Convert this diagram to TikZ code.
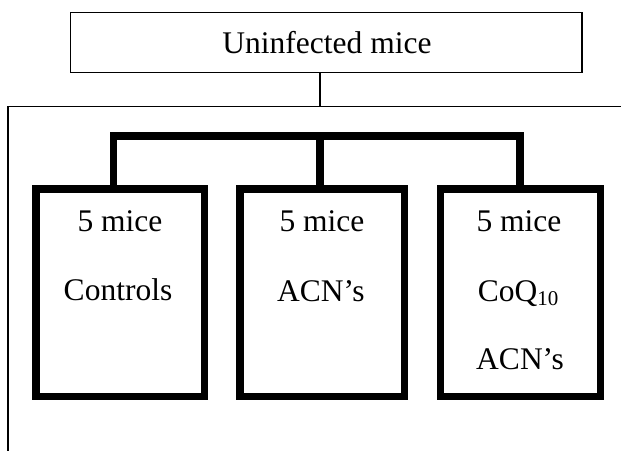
\documentclass[tikz,border=0pt]{standalone}
\usepackage{fontspec}
\setmainfont{Liberation Serif}
\begin{document}
\begin{tikzpicture}[x=1pt,y=-1pt,
  thinline/.style={line width=1.3pt,black},
  thickline/.style={line width=7.5pt,black,line join=miter},
  groupbox/.style={draw,thickline,rectangle,inner sep=0pt},
  topbox/.style={draw,thinline,rectangle,inner sep=0pt,minimum width=511.5pt,minimum height=60pt},
  lbl/.style={anchor=base,inner sep=0pt,font=\fontsize{31.5}{36}\selectfont}]
\useasboundingbox (0,0) rectangle (621,451);
% top box
\node[topbox] (top) at (326.25,42.5) {};
\node[lbl] (toptext) at (327,53.3) {Uninfected mice};
% thin frame lines
\coordinate (hj) at (320,106.5);
\coordinate (hl) at (8,106.5);
\coordinate (hr) at (621,106.5);
\coordinate (vb) at (8,451);
\draw[thinline] (top.south -| hj) -- (hj);
\draw[thinline] (hr) -- (hl) -- (vb);
% group boxes
\node[groupbox,minimum width=168.5pt,minimum height=207.5pt] (b1) at (120,292.5) {};
\node[groupbox,minimum width=164.5pt,minimum height=207.5pt] (b2) at (322,292.5) {};
\node[groupbox,minimum width=159.75pt,minimum height=207.5pt] (b3) at (520.4,292.5) {};
% bracket
\coordinate (j1) at (113.5,136);
\coordinate (j2) at (320,136);
\coordinate (j3) at (520,136);
\draw[thickline] (j1 |- b1.north) -- (j1) -- (j3) -- (j3 |- b3.north);
\draw[thickline] (j2) -- (j2 |- b2.north);
% texts
\node[lbl] (t11) at (120,231.7) {5 mice};
\node[lbl] (t12) at (118,300) {Controls};
\node[lbl] (t21) at (322,231.7) {5 mice};
\node[lbl] (t22) at (321,301) {ACN’s};
\node[lbl] (t31) at (519,231.7) {5 mice};
\node[lbl] (t32) at (518,301.5) {CoQ\raisebox{-4pt}{\fontsize{21}{24}\selectfont 10}};
\node[lbl] (t33) at (520,369.5) {ACN’s};
\end{tikzpicture}
\end{document}
